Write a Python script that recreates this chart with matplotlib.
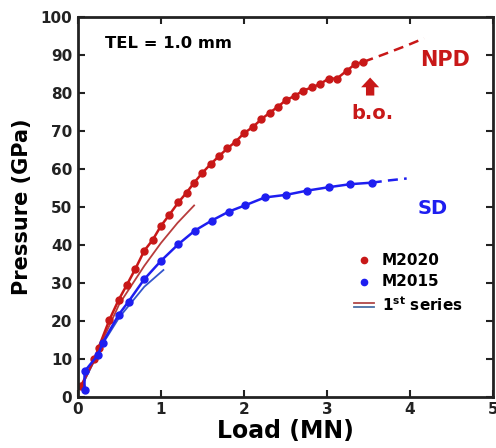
import matplotlib
matplotlib.use("Agg")
import matplotlib.pyplot as plt

plt.rcParams['font.family'] = ['DejaVu Sans']
plt.rcParams['font.weight'] = 'bold'
plt.rcParams['mathtext.fontset'] = 'dejavusans'

# M2020 (NPD) data
npd_load = [0.04, 0.20, 0.25, 0.38, 0.49, 0.59, 0.69, 0.80, 0.90, 1.00, 1.10, 1.21, 1.31, 1.40,
            1.50, 1.60, 1.70, 1.80, 1.90, 2.00, 2.11, 2.21, 2.31, 2.41, 2.51, 2.61, 2.71, 2.82,
            2.92, 3.02, 3.12, 3.24, 3.34, 3.44]
npd_press = [3.0, 9.9, 13.0, 20.3, 25.5, 29.5, 33.6, 38.5, 41.3, 45.0, 47.9, 51.2, 53.8, 56.4,
             59.0, 61.3, 63.4, 65.4, 67.2, 69.4, 71.1, 73.1, 74.8, 76.4, 78.2, 79.2, 80.6, 81.5,
             82.4, 83.8, 83.8, 85.9, 87.6, 88.2]
npd_ext_load = [3.44, 3.7, 3.95, 4.17]
npd_ext_press = [88.2, 90.3, 92.4, 94.4]

# M2015 (SD) data
sd_load = [0.08, 0.08, 0.24, 0.30, 0.49, 0.61, 0.80, 1.00, 1.21, 1.41, 1.61, 1.82, 2.01,
           2.25, 2.51, 2.76, 3.02, 3.28, 3.54]
sd_press = [1.8, 6.7, 11.0, 14.3, 21.6, 25.1, 31.0, 35.8, 40.2, 43.8, 46.4, 48.8, 50.4,
            52.5, 53.2, 54.3, 55.2, 56.0, 56.4]
sd_ext_load = [3.54, 3.75, 3.96]
sd_ext_press = [56.4, 57.0, 57.5]

# 1st series curves
s1_red_load = [0.05, 0.3, 0.5, 0.8, 1.0, 1.2, 1.4]
s1_red_press = [3.0, 15.0, 24.5, 34.5, 40.5, 45.8, 50.4]
s1_blue_load = [0.05, 0.3, 0.5, 0.8, 1.03]
s1_blue_press = [3.0, 14.0, 21.0, 29.0, 33.4]

RED = '#c81818'
BLUE = '#1e1ef0'

fig = plt.figure(figsize=(4.96, 4.48), dpi=100)
ax = fig.add_axes([0.157, 0.114, 0.837, 0.848])

ax.plot(s1_red_load, s1_red_press, color='#b83c3c', lw=1.3)
ax.plot(s1_blue_load, s1_blue_press, color='#3355cc', lw=1.3)

ax.plot(npd_load, npd_press, color=RED, lw=1.8, marker='o', ms=5)
ax.plot(npd_ext_load, npd_ext_press, color=RED, lw=1.8, ls=(0, (4, 2.5)))
ax.plot(sd_load, sd_press, color=BLUE, lw=1.8, marker='o', ms=5)
ax.plot(sd_ext_load, sd_ext_press, color=BLUE, lw=1.8, ls=(0, (4, 2.5)))

ax.set_xlim(0, 5)
ax.set_ylim(0, 100)
ax.set_xticks([0, 1, 2, 3, 4, 5])
ax.set_yticks(range(0, 101, 10))
ax.tick_params(direction='in', top=True, right=True, length=5, width=1.5,
               labelsize=11, pad=4, colors='#222222')
for lab in ax.get_xticklabels() + ax.get_yticklabels():
    lab.set_fontweight('bold')
for sp in ax.spines.values():
    sp.set_linewidth(2)
    sp.set_color('#222222')

ax.set_xlabel('Load (MN)', fontsize=17, fontweight='bold', labelpad=1)
ax.set_ylabel('Pressure (GPa)', fontsize=15, fontweight='bold', labelpad=6)

ax.text(0.33, 92.9, 'TEL = 1.0 mm', fontsize=11.8, fontweight='bold', va='center', ha='left')
ax.text(4.42, 88.7, 'NPD', fontsize=15, fontweight='bold', color=RED, va='center', ha='center')
ax.text(3.55, 74.5, 'b.o.', fontsize=14, fontweight='bold', color=RED, va='center', ha='center')
ax.annotate('', xy=(3.52, 84.8), xytext=(3.52, 78.6),
            arrowprops=dict(arrowstyle='simple,head_length=0.7,head_width=1.3,tail_width=0.6',
                            color=RED, lw=0))
ax.text(4.27, 49.5, 'SD', fontsize=14, fontweight='bold', color=BLUE, va='center', ha='center')

# legend
ax.plot([3.45], [36.0], 'o', color=RED, ms=4.5)
ax.plot([3.45], [30.3], 'o', color=BLUE, ms=4.5)
ax.plot([3.33, 3.57], [24.8, 24.8], color='#b04848', lw=1.3)
ax.plot([3.33, 3.57], [23.6, 23.6], color='#4a6fa5', lw=1.3)
ax.text(3.66, 36.0, 'M2020', fontsize=11, fontweight='bold', va='center')
ax.text(3.66, 30.3, 'M2015', fontsize=11, fontweight='bold', va='center')
ax.text(3.66, 24.2, r'1$^{\mathbf{st}}$ series', fontsize=11, fontweight='bold', va='center')

fig.savefig('out.png', dpi=100)
